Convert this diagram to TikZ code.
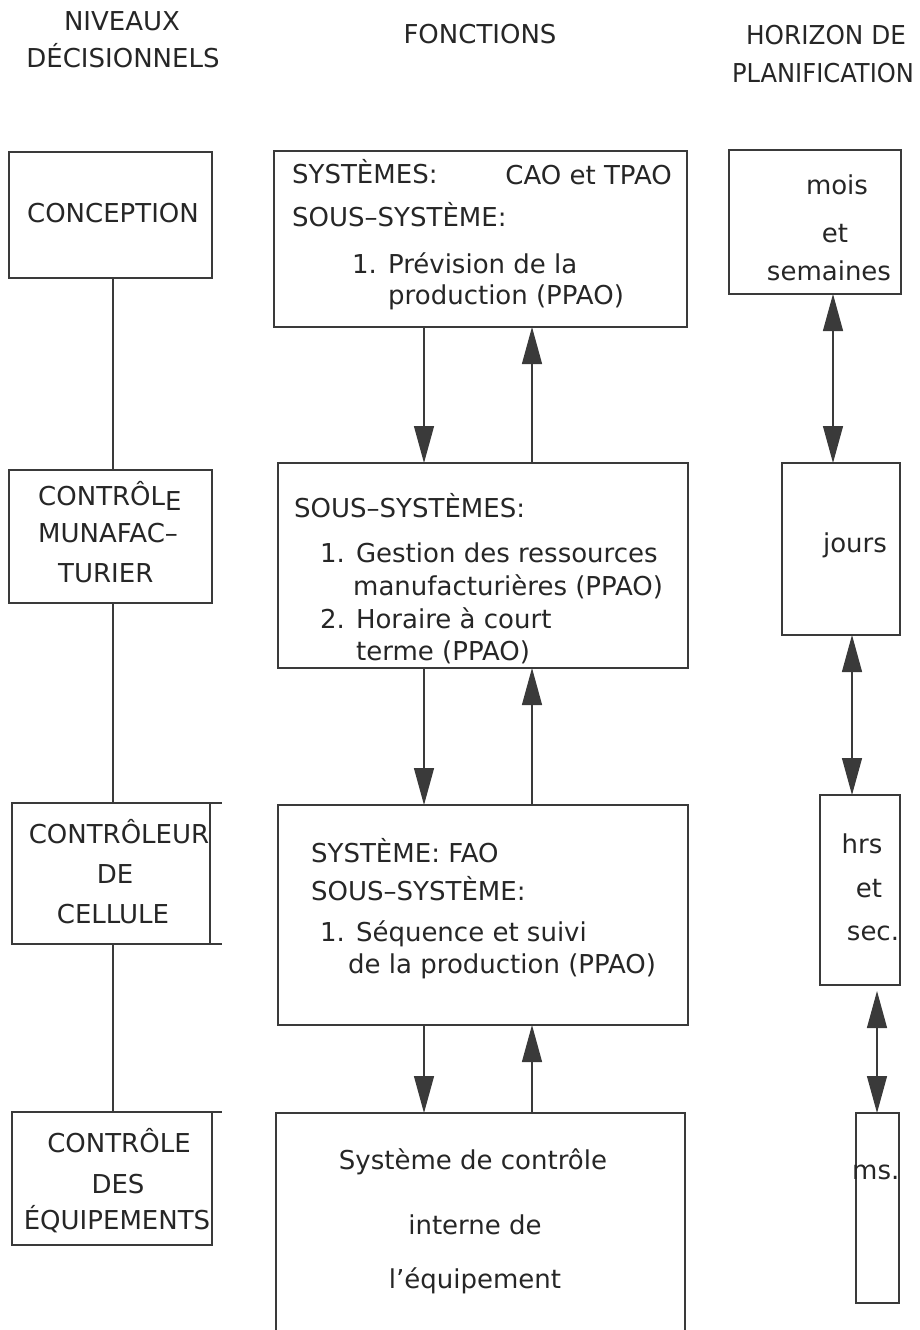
\documentclass[tikz,border=0pt]{standalone}
\usepackage{fontspec}
\setmainfont{DejaVu Sans}
\usetikzlibrary{arrows.meta}
\definecolor{ink}{HTML}{262626}
\definecolor{edge}{HTML}{3A3A3A}
\begin{document}
\begin{tikzpicture}[x=1pt,y=-1pt,
  box/.style={draw=edge, line width=2pt, anchor=north west, inner sep=0pt, outer sep=0pt},
  txt/.style={font=\fontsize{26}{30}\selectfont, text=ink, inner sep=0pt, text height=19pt, text depth=5pt},
  lt/.style={txt, anchor=west},
  rt/.style={txt, anchor=east},
  link/.style={draw=edge, line width=1.3pt},
  tip/.tip={Triangle[length=37pt,width=20pt]},
  down/.style={link, -tip, fill=edge},
  up/.style={link, tip-, fill=edge},
  both/.style={link, tip-tip, fill=edge}
]
\useasboundingbox (0,0) rectangle (919,1330);
\clip (0,0) rectangle (919,1330);

% column headings
\node[txt] (h1a) at (122,24) {NIVEAUX};
\node[txt] (h1b) at (123,60) {DÉCISIONNELS};
\node[txt] (h2)  at (480,37) {FONCTIONS};
\node[txt, xscale=0.95, transform shape] (h3a) at (826,38) {HORIZON DE};
\node[txt, xscale=0.93, transform shape] (h3b) at (823,75) {PLANIFICATION};

% decision levels
\node[box, minimum width=203pt, minimum height=126pt] (L1) at (9,152) {};
\node[box, minimum width=203pt, minimum height=133pt] (L2) at (9,470) {};
\node[box, minimum width=198pt, minimum height=141pt] (L3) at (12,803) {};
\node[box, minimum width=200pt, minimum height=133pt] (L4) at (12,1112) {};
\draw[edge, line width=2pt] (L3.north east) -- ++(12,0);
\draw[edge, line width=2pt] (L3.south east) -- ++(12,0);
\draw[edge, line width=2pt] (L4.north east) -- ++(10,0);

\node[txt] (l1t) at (113,215) {CONCEPTION};
\node[lt] (l2a) at (38,498) {CONTRÔL\raisebox{-5pt}{E}};
\node[lt] (l2b) at (38,535) {MUNAFAC–};
\node[lt] (l2c) at (58,575) {TURIER};
\node[txt] (l3a) at (119,836) {CONTRÔLEUR};
\node[txt] (l3b) at (115,876) {DE};
\node[txt] (l3c) at (113,916) {CELLULE};
\node[txt] (l4a) at (119,1145) {CONTRÔLE};
\node[txt] (l4b) at (118,1186) {DES};
\node[txt] (l4c) at (117,1222) {ÉQUIPEMENTS};

\coordinate (vx) at (113,0);
\draw[link] (vx |- L1.south) -- (vx |- L2.north);
\draw[link] (vx |- L2.south) -- (vx |- L3.north);
\draw[link] (vx |- L3.south) -- (vx |- L4.north);

% functions
\node[box, minimum width=413pt, minimum height=176pt] (M1) at (274,151) {};
\node[box, minimum width=410pt, minimum height=205pt] (M2) at (278,463) {};
\node[box, minimum width=410pt, minimum height=220pt] (M3) at (278,805) {};
\node[box, minimum width=409pt, minimum height=240pt] (M4) at (276,1113) {};

\node[lt] (m1a) at (292,176) {SYSTÈMES:};
\node[rt] (m1b) at (672,177) {CAO et TPAO};
\node[lt] (m1c) at (292,219) {SOUS–SYSTÈME:};
\node[lt] (m1d) at (352,266) {1. Prévision de la};
\node[lt] (m1e) at (388,297) {production (PPAO)};

\node[lt] (m2a) at (294,510) {SOUS–SYSTÈMES:};
\node[lt] (m2b) at (320,555) {1. Gestion des ressources};
\node[lt] (m2c) at (353,588) {manufacturières (PPAO)};
\node[lt] (m2d) at (320,621) {2. Horaire à court};
\node[lt] (m2e) at (356,653) {terme (PPAO)};

\node[lt] (m3a) at (311,855) {SYSTÈME: FAO};
\node[lt] (m3b) at (311,893) {SOUS–SYSTÈME:};
\node[lt] (m3c) at (320,934) {1. Séquence et suivi};
\node[lt] (m3d) at (348,966) {de la production (PPAO)};

\node[txt] (m4a) at (473,1162) {Système de contrôle};
\node[txt] (m4b) at (475,1227) {interne de};
\node[txt] (m4c) at (475,1281) {l’équipement};

\coordinate (dx) at (424,0);
\coordinate (ux) at (532,0);
\draw[down] (dx |- M1.south) -- (dx |- M2.north);
\draw[up]   (ux |- M1.south) -- (ux |- M2.north);
\draw[down] (dx |- M2.south) -- (dx |- M3.north);
\draw[up]   (ux |- M2.south) -- (ux |- M3.north);
\draw[down] (dx |- M3.south) -- (dx |- M4.north);
\draw[up]   (ux |- M3.south) -- (ux |- M4.north);

% planning horizon
\node[box, minimum width=172pt, minimum height=144pt] (R1) at (729,150) {};
\node[box, minimum width=118pt, minimum height=172pt] (R2) at (782,463) {};
\node[box, minimum width=80pt,  minimum height=190pt] (R3) at (820,795) {};
\node[box, minimum width=43pt,  minimum height=190pt] (R4) at (856,1113) {};

\node[txt] (r1a) at (837,187) {mois};
\node[txt] (r1b) at (835,235) {et};
\node[txt] (r1c) at (829,273) {semaines};
\node[txt] (r2a) at (855,545) {jours};
\node[txt] (r3a) at (862,846) {hrs};
\node[txt] (r3b) at (869,890) {et};
\node[txt] (r3c) at (873,933) {sec.};
\node[lt]  (r4a) at (852,1172) {ms.};

\coordinate (a1) at (833,0);
\coordinate (a2) at (852,0);
\coordinate (a3) at (877,0);
\draw[both] (a1 |- R1.south) -- (a1 |- R2.north);
\draw[both] (a2 |- R2.south) -- (a2 |- R3.north);
\draw[both, shorten <=6pt] (a3 |- R3.south) -- (a3 |- R4.north);
\end{tikzpicture}
\end{document}
